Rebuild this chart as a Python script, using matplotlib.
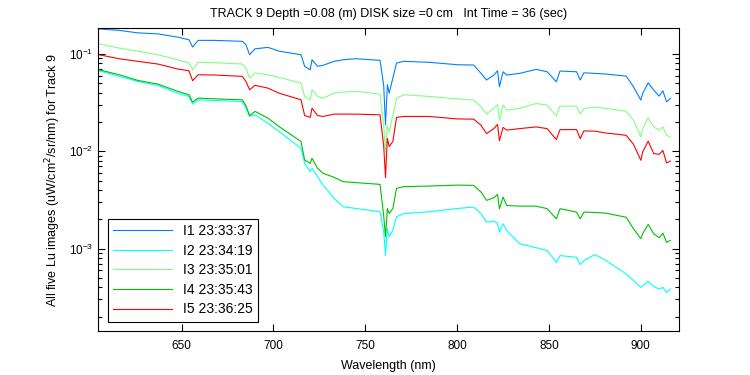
import numpy as np
import matplotlib
matplotlib.use('Agg')
from matplotlib import pyplot as plt
from matplotlib.ticker import LogLocator, NullFormatter

plt.rcParams['font.family'] = ['Liberation Sans', 'DejaVu Sans']

##############################################
# Data
##############################################
wavelength = [605, 616, 626, 637, 648, 654, 656, 659, 668, 683, 685, 687, 690, 697, 703,
              715, 717, 720, 721, 724, 727, 733, 738, 745, 758, 760, 761, 762, 763, 765,
              767, 771, 785, 800, 809, 813, 816, 820, 822, 823, 825, 827, 834, 843, 849,
              854, 856, 865, 867, 869, 875, 881, 892, 896, 900, 901, 904, 907, 910, 912,
              914, 916]

i1 = [0.181, 0.175, 0.165, 0.161, 0.149, 0.140, 0.118, 0.138, 0.138, 0.135, 0.125, 0.0983,
      0.113, 0.117, 0.107, 0.0983, 0.0747, 0.0689, 0.0873, 0.0747, 0.0765, 0.0841, 0.0873,
      0.0894, 0.0861, 0.0479, 0.0187, 0.0483, 0.0396, 0.0566, 0.0808, 0.0841, 0.0821, 0.0776,
      0.0770, 0.0632, 0.0540, 0.0608, 0.0673, 0.0460, 0.0657, 0.0608, 0.0632, 0.0695, 0.0657,
      0.0518, 0.0668, 0.0657, 0.0540, 0.0641, 0.0632, 0.0622, 0.0593, 0.0460, 0.0336, 0.0393,
      0.0506, 0.0426, 0.0369, 0.0418, 0.0322, 0.0349]

i2 = [0.0673, 0.0589, 0.0523, 0.0476, 0.0396, 0.0366, 0.0305, 0.0338, 0.0333, 0.0325, 0.0278,
      0.0228, 0.0237, 0.0194, 0.0160, 0.0107, 0.00752, 0.00617, 0.00668, 0.00548, 0.00449,
      0.00328, 0.00269, 0.00258, 0.00239, 0.00150, 0.000853, 0.00161, 0.00132, 0.00154,
      0.00212, 0.00229, 0.00239, 0.00258, 0.00267, 0.00228, 0.00187, 0.00191, 0.00182,
      0.00147, 0.00180, 0.00153, 0.00112, 0.00102, 0.000954, 0.000722, 0.000847, 0.000813,
      0.000684, 0.000752, 0.000867, 0.000752, 0.000548, 0.000468, 0.000399, 0.000415,
      0.000460, 0.000406, 0.000384, 0.000399, 0.000354, 0.000384]

i3 = [0.127, 0.115, 0.107, 0.0983, 0.0873, 0.0808, 0.0689, 0.0821, 0.0814, 0.0789, 0.0718,
      0.0566, 0.0637, 0.0612, 0.0575, 0.0502, 0.0366, 0.0338, 0.0429, 0.0366, 0.0352, 0.0396,
      0.0406, 0.0413, 0.0387, 0.0185, 0.00976, 0.0185, 0.0157, 0.0235, 0.0352, 0.0381, 0.0366,
      0.0346, 0.0336, 0.0286, 0.0241, 0.0278, 0.0303, 0.0209, 0.0298, 0.0265, 0.0276, 0.0310,
      0.0298, 0.0230, 0.0291, 0.0291, 0.0241, 0.0276, 0.0284, 0.0276, 0.0258, 0.0209, 0.0140,
      0.0171, 0.0220, 0.0178, 0.0165, 0.0178, 0.0146, 0.0140]

i4 = [0.0689, 0.0612, 0.0536, 0.0491, 0.0413, 0.0381, 0.0320, 0.0352, 0.0346, 0.0338, 0.0296,
      0.0233, 0.0257, 0.0219, 0.0180, 0.0126, 0.00813, 0.00752, 0.00847, 0.00668, 0.00593,
      0.00540, 0.00487, 0.00476, 0.00457, 0.00219, 0.00132, 0.00258, 0.00229, 0.00258,
      0.00416, 0.00433, 0.00439, 0.00449, 0.00446, 0.00381, 0.00313, 0.00333, 0.00360,
      0.00257, 0.00338, 0.00277, 0.00273, 0.00273, 0.00257, 0.00202, 0.00257, 0.00237,
      0.00202, 0.00237, 0.00235, 0.00231, 0.00210, 0.00160, 0.00126, 0.00142, 0.00177,
      0.00142, 0.00129, 0.00144, 0.00116, 0.00121]

i5 = [0.0983, 0.0894, 0.0841, 0.0789, 0.0700, 0.0673, 0.0531, 0.0612, 0.0608, 0.0589, 0.0523,
      0.0429, 0.0476, 0.0446, 0.0396, 0.0338, 0.0233, 0.0223, 0.0278, 0.0233, 0.0228, 0.0241,
      0.0241, 0.0241, 0.0237, 0.0115, 0.00536, 0.0136, 0.0112, 0.0126, 0.0223, 0.0228, 0.0228,
      0.0215, 0.0214, 0.0185, 0.0152, 0.0171, 0.0189, 0.0128, 0.0176, 0.0165, 0.0171, 0.0178,
      0.0171, 0.0132, 0.0167, 0.0167, 0.0135, 0.0162, 0.0161, 0.0154, 0.0146, 0.0118, 0.00808,
      0.00984, 0.0127, 0.00947, 0.00931, 0.0102, 0.00757, 0.00794]

labels = ['I1 23:33:37', 'I2 23:34:19', 'I3 23:35:01', 'I4 23:35:43', 'I5 23:36:25']
colors = ['#0080ff', '#00ffff', '#80ff80', '#00c000', '#ff0000']

##############################################
# Plot
##############################################
fig = plt.figure(figsize=(7.5, 3.75), dpi=100)
ax = fig.add_axes([0.1307, 0.1173, 0.7747, 0.808])

for y, c, lab in zip([i1, i2, i3, i4, i5], colors, labels):
    ax.plot(wavelength, y, color=c, linewidth=0.8, label=lab)

ax.set_yscale('log')
ax.set_xlim(604.5, 920.8)
ax.set_ylim(1.42e-4, 0.185)
ax.set_xticks([650, 700, 750, 800, 850, 900])
ax.yaxis.set_minor_locator(LogLocator(base=10, subs=np.arange(2, 10)))
ax.yaxis.set_minor_formatter(NullFormatter())
ax.tick_params(which='both', direction='in', top=True, right=True, labelsize=8.5, width=0.8)
ax.tick_params(which='major', length=5)
ax.tick_params(which='minor', length=3)
ax.tick_params(axis='x', pad=6.5)
ax.minorticks_on()
ax.xaxis.set_tick_params(which='minor', length=0)
for s in ax.spines.values():
    s.set_linewidth(0.8)

ax.set_xlabel('Wavelength (nm)', fontsize=9, labelpad=6)
ax.set_ylabel('All five Lu images (uW/cm$^2$/sr/nm) for Track 9', fontsize=9)
ax.set_title('TRACK 9 Depth =0.08 (m) DISK size =0 cm   Int Time = 36 (sec)', fontsize=9, pad=8)

leg = ax.legend(loc='lower left', bbox_to_anchor=(0.017, 0.03), borderaxespad=0,
                fancybox=False, framealpha=1, edgecolor='black', fontsize=10,
                handlelength=4.2, labelspacing=0.4)
leg.get_frame().set_linewidth(0.8)

plt.savefig('out.png', dpi=100)
